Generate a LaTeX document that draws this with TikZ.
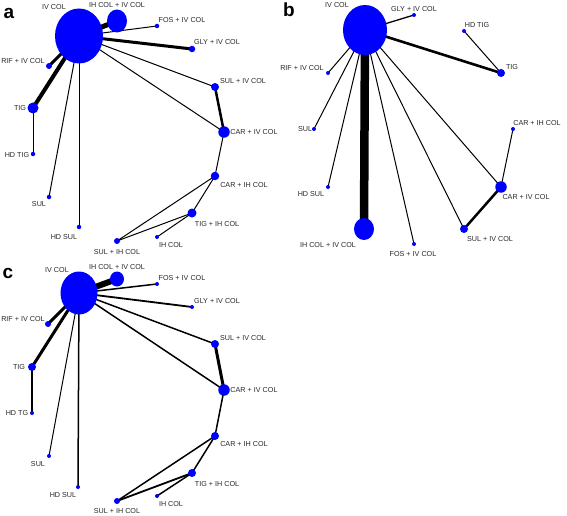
\documentclass[tikz,border=0pt]{standalone}
\usepackage{fontspec}
\setmainfont{Liberation Sans}
\usetikzlibrary{shapes.geometric,backgrounds}
\definecolor{netblue}{RGB}{0,0,255}
\definecolor{labgray}{RGB}{40,40,40}
\tikzset{
  vtx/.style={circle,fill=netblue,inner sep=0pt,minimum size=#1},
  bigvtx/.style={ellipse,fill=netblue,inner sep=0pt},
  lab/.style={font=\fontsize{7.2}{8}\selectfont,text=labgray,inner sep=0pt},
  panel/.style={font=\fontsize{19}{20}\selectfont\bfseries,inner sep=0pt},
  edge/.style={line width=#1,black},
  edge/.default=1pt
}
\begin{document}
\begin{tikzpicture}[x=1pt,y=-1pt]
        \useasboundingbox (0,0) rectangle (567,516);
        % panel a
        \node[panel] (a-tag) at (9,13) {a};
        \node[bigvtx,minimum width=48,minimum height=55] (a-iv) at (79,36) {};
        \node[bigvtx,minimum width=20,minimum height=23] (a-ihiv) at (117,21) {};
        \node[vtx=4.5] (a-fos) at (157,26) {};
        \node[vtx=6.5] (a-gly) at (192,49) {};
        \node[vtx=6] (a-rif) at (49,66) {};
        \node[vtx=11] (a-tig) at (33,108) {};
        \node[vtx=4.5] (a-hdtig) at (33,154) {};
        \node[vtx=4.5] (a-sul) at (49,197) {};
        \node[vtx=4.5] (a-hdsul) at (79,227) {};
        \node[vtx=8] (a-suliv) at (215,87) {};
        \node[vtx=11.5] (a-cariv) at (224,132) {};
        \node[vtx=8.5] (a-carih) at (215,176) {};
        \node[vtx=9] (a-tigih) at (192,213) {};
        \node[vtx=4] (a-ih) at (157,237) {};
        \node[vtx=6] (a-sulih) at (117,241) {};
        \begin{scope}[on background layer]
        \draw[edge=5pt] (a-iv.center) -- (a-ihiv.center);
        \draw[edge] (a-iv.center) -- (a-fos.center);
        \draw[edge=3pt] (a-iv.center) -- (a-gly.center);
        \draw[edge=3pt] (a-iv.center) -- (a-rif.center);
        \draw[edge=4pt] (a-iv.center) -- (a-tig.center);
        \draw[edge] (a-tig.center) -- (a-hdtig.center);
        \draw[edge] (a-iv.center) -- (a-sul.center);
        \draw[edge] (a-iv.center) -- (a-hdsul.center);
        \draw[edge] (a-iv.center) -- (a-suliv.center);
        \draw[edge] (a-iv.center) -- (a-cariv.center);
        \draw[edge=2.5pt] (a-suliv.center) -- (a-cariv.center);
        \draw[edge] (a-cariv.center) -- (a-carih.center);
        \draw[edge] (a-carih.center) -- (a-tigih.center);
        \draw[edge] (a-carih.center) -- (a-sulih.center);
        \draw[edge] (a-tigih.center) -- (a-sulih.center);
        \draw[edge] (a-tigih.center) -- (a-ih.center);
        \end{scope}
        \node[lab] (a-ivl) at (54,7) {IV COL};
        \node[lab] (a-ihivl) at (117,5) {IH COL + IV COL};
        \node[lab] (a-fosl) at (182,20) {FOS + IV COL};
        \node[lab] (a-glyl) at (217,42) {GLY + IV COL};
        \node[lab] (a-rifl) at (23,61) {RIF + IV COL};
        \node[lab] (a-tigl) at (20,108) {TIG};
        \node[lab] (a-hdtigl) at (17,155) {HD TIG};
        \node[lab] (a-sull) at (39,204) {SUL};
        \node[lab] (a-hdsull) at (64,237) {HD SUL};
        \node[lab] (a-sulivl) at (243,81) {SUL + IV COL};
        \node[lab] (a-carivl) at (254,132) {CAR + IV COL};
        \node[lab] (a-carihl) at (244,185) {CAR + IH COL};
        \node[lab] (a-tigihl) at (217,224) {TIG + IH COL};
        \node[lab] (a-ihl) at (171,245) {IH COL};
        \node[lab] (a-sulihl) at (117,252) {SUL + IH COL};
        % panel b
        \node[panel] (b-tag) at (289,10) {b};
        \node[bigvtx,minimum width=44,minimum height=50] (b-iv) at (365,30) {};
        \node[bigvtx,minimum width=20,minimum height=22] (b-ihiv) at (364,229) {};
        \node[vtx=4] (b-gly) at (414,15) {};
        \node[vtx=4] (b-hdtig) at (464,31) {};
        \node[vtx=8] (b-tig) at (501,73) {};
        \node[vtx=4] (b-rif) at (328,73) {};
        \node[vtx=4] (b-sul) at (314,129) {};
        \node[vtx=4] (b-hdsul) at (328,187) {};
        \node[vtx=4] (b-fos) at (414,244) {};
        \node[vtx=8] (b-suliv) at (464,229) {};
        \node[vtx=11.5] (b-cariv) at (501,187) {};
        \node[vtx=4] (b-carih) at (513,129) {};
        \begin{scope}[on background layer]
        \draw[edge=8.5pt] (b-iv.center) -- (b-ihiv.center);
        \draw[edge=1.3pt] (b-iv.center) -- (b-gly.center);
        \draw[edge=2.6pt] (b-iv.center) -- (b-tig.center);
        \draw[edge] (b-hdtig.center) -- (b-tig.center);
        \draw[edge] (b-iv.center) -- (b-rif.center);
        \draw[edge] (b-iv.center) -- (b-sul.center);
        \draw[edge] (b-iv.center) -- (b-hdsul.center);
        \draw[edge] (b-iv.center) -- (b-fos.center);
        \draw[edge] (b-iv.center) -- (b-suliv.center);
        \draw[edge] (b-iv.center) -- (b-cariv.center);
        \draw[edge=2.5pt] (b-suliv.center) -- (b-cariv.center);
        \draw[edge] (b-cariv.center) -- (b-carih.center);
        \end{scope}
        \node[lab] (b-ivl) at (337,5) {IV COL};
        \node[lab] (b-glyl) at (414,9) {GLY + IV COL};
        \node[lab] (b-hdtigl) at (477,25) {HD TIG};
        \node[lab] (b-tigl) at (512,67) {TIG};
        \node[lab] (b-rifl) at (302,68) {RIF + IV COL};
        \node[lab] (b-sull) at (305,129) {SUL};
        \node[lab] (b-hdsull) at (311,194) {HD SUL};
        \node[lab] (b-ihivl) at (328,245) {IH COL + IV COL};
        \node[lab] (b-fosl) at (413,254) {FOS + IV COL};
        \node[lab] (b-sulivl) at (490,239) {SUL + IV COL};
        \node[lab] (b-carivl) at (526,197) {CAR + IV COL};
        \node[lab] (b-carihl) at (537,123) {CAR + IH COL};
        % panel c
        \node[panel] (c-tag) at (8,273) {c};
        \node[bigvtx,minimum width=37,minimum height=43] (c-iv) at (79,293) {};
        \node[bigvtx,minimum width=14,minimum height=15] (c-ihiv) at (117,279) {};
        \node[vtx=4] (c-fos) at (157,284) {};
        \node[vtx=4] (c-gly) at (192,307) {};
        \node[vtx=6] (c-rif) at (48,324) {};
        \node[vtx=8] (c-tig) at (32,367) {};
        \node[vtx=4] (c-hdtg) at (32,413) {};
        \node[vtx=4] (c-sul) at (49,456) {};
        \node[vtx=4] (c-hdsul) at (78,487) {};
        \node[vtx=8] (c-suliv) at (215,344) {};
        \node[vtx=11.5] (c-cariv) at (224,390) {};
        \node[vtx=8] (c-carih) at (215,436) {};
        \node[vtx=8] (c-tigih) at (192,473) {};
        \node[vtx=4] (c-ih) at (157,496) {};
        \node[vtx=6] (c-sulih) at (117,501) {};
        \begin{scope}[on background layer]
        \draw[edge=6pt] (c-iv.center) -- (c-ihiv.center);
        \draw[edge=1.5pt] (c-iv.center) -- (c-fos.center);
        \draw[edge=1.8pt] (c-iv.center) -- (c-gly.center);
        \draw[edge=3pt] (c-iv.center) -- (c-rif.center);
        \draw[edge=3pt] (c-iv.center) -- (c-tig.center);
        \draw[edge=1.5pt] (c-tig.center) -- (c-hdtg.center);
        \draw[edge] (c-iv.center) -- (c-sul.center);
        \draw[edge=1.5pt] (c-iv.center) -- (c-hdsul.center);
        \draw[edge=1.5pt] (c-iv.center) -- (c-suliv.center);
        \draw[edge=1.5pt] (c-iv.center) -- (c-cariv.center);
        \draw[edge=3pt] (c-suliv.center) -- (c-cariv.center);
        \draw[edge=1.5pt] (c-cariv.center) -- (c-carih.center);
        \draw[edge=1.5pt] (c-carih.center) -- (c-tigih.center);
        \draw[edge=1.5pt] (c-carih.center) -- (c-sulih.center);
        \draw[edge=1.8pt] (c-tigih.center) -- (c-sulih.center);
        \draw[edge=1.5pt] (c-tigih.center) -- (c-ih.center);
        \end{scope}
        \node[lab] (c-ivl) at (57,270) {IV COL};
        \node[lab] (c-ihivl) at (117,267) {IH COL + IV COL};
        \node[lab] (c-fosl) at (182,278) {FOS + IV COL};
        \node[lab] (c-glyl) at (217,301) {GLY + IV COL};
        \node[lab] (c-rifl) at (23,319) {RIF + IV COL};
        \node[lab] (c-tigl) at (19,367) {TIG};
        \node[lab] (c-hdtgl) at (17,413) {HD TG};
        \node[lab] (c-sull) at (38,464) {SUL};
        \node[lab] (c-hdsull) at (63,495) {HD SUL};
        \node[lab] (c-sulivl) at (243,338) {SUL + IV COL};
        \node[lab] (c-carivl) at (254,390) {CAR + IV COL};
        \node[lab] (c-carihl) at (244,444) {CAR + IH COL};
        \node[lab] (c-tigihl) at (217,484) {TIG + IH COL};
        \node[lab] (c-ihl) at (171,504) {IH COL};
        \node[lab] (c-sulihl) at (117,511) {SUL + IH COL};
      \end{tikzpicture}
\end{document}
